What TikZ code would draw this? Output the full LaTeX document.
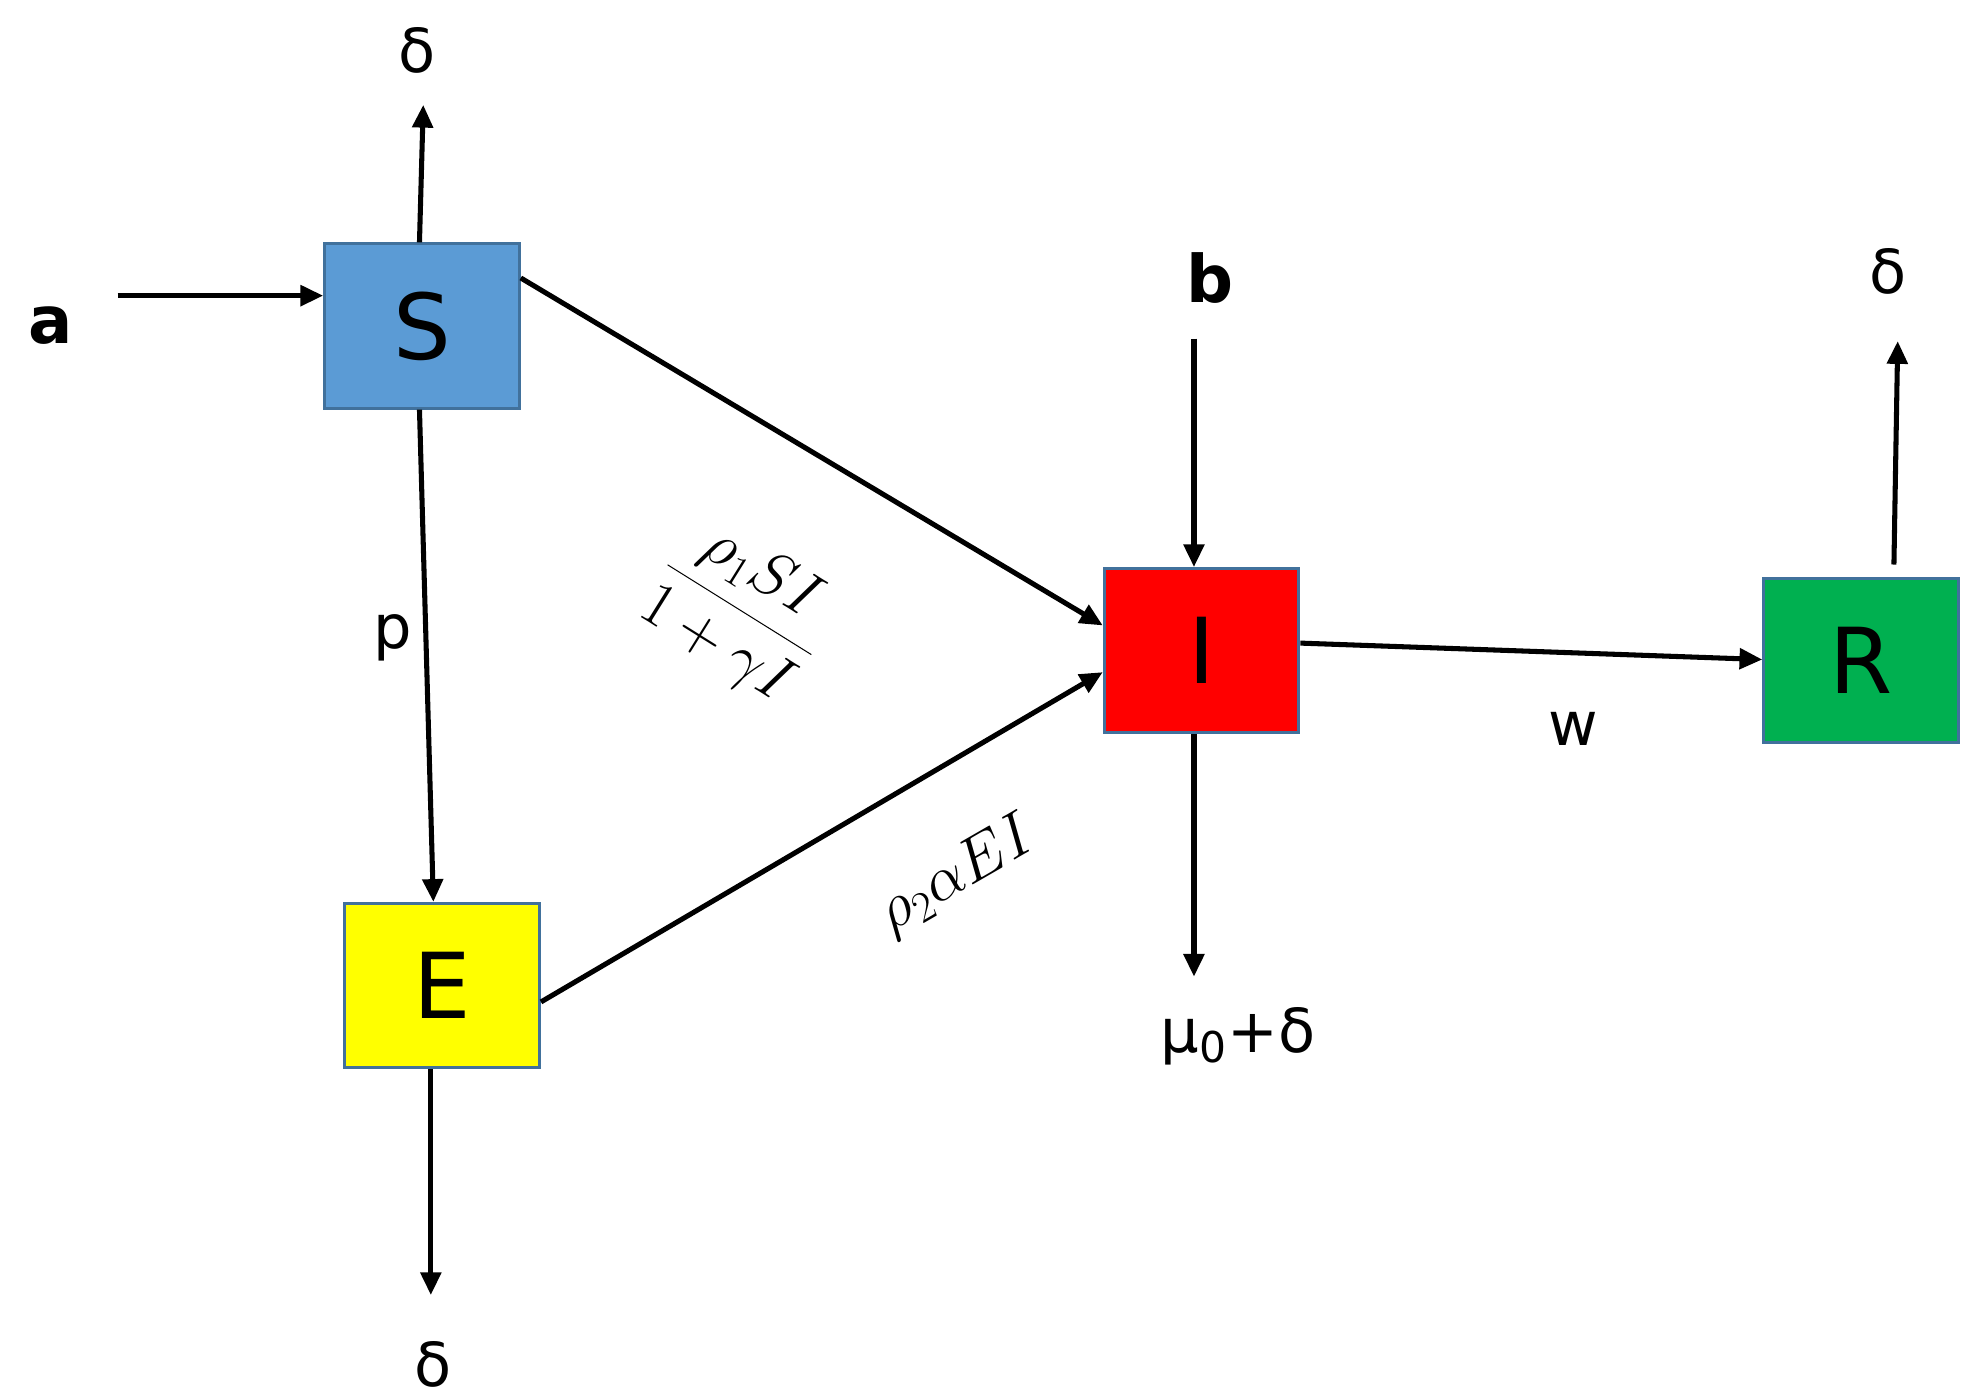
\documentclass[tikz,border=0pt]{standalone}
\usepackage{fontspec}
\setmainfont{DejaVu Sans}
\usetikzlibrary{arrows.meta}
\definecolor{bord}{RGB}{65,113,156}
\definecolor{sblue}{RGB}{91,155,213}
\definecolor{rgreen}{RGB}{0,176,80}
\definecolor{yel}{RGB}{255,255,0}
\begin{document}
\begin{tikzpicture}[x=0.5pt,y=-0.5pt,
  box/.style={draw=bord, line width=1.2pt, minimum width=77pt, minimum height=65pt, inner sep=0pt, font=\fontsize{36}{40}\selectfont},
  arr/.style={line width=2pt, -{Triangle[length=9pt,width=8pt]}},
  lab/.style={font=\fontsize{24}{26}\selectfont, inner sep=0pt}]
\useasboundingbox (0,0) rectangle (1560,1108);
\node[box, fill=sblue] (S) at (334,258) {S};
\node[box, fill=yel] (E) at (350,780) {E};
\node[box, fill=red] (I) at (951,515) {I};
\node[box, fill=rgreen] (R) at (1473,523) {R};
\node[lab, font=\fontsize{26}{28}\selectfont\bfseries] (a) at (40,258) {a};
\node[lab, font=\fontsize{26}{28}\selectfont\bfseries] (b) at (958,220) {b};
\node[lab] (dS) at (330,40) {δ};
\node[lab] (dE) at (343,1080) {δ};
\node[lab] (dR) at (1494,215) {δ};
\node[lab] (mu) at (980,820) {μ\textsubscript{0}+δ};
\node[lab] (p) at (311,505) {p};
\node[lab] (w) at (1245,577) {w};
\node[inner sep=0pt, rotate=-32] (f1) at (585,483) {\fontsize{27}{30}\selectfont$\displaystyle\frac{\rho_1 SI}{1+\gamma I}$};
\node[inner sep=0pt, rotate=30] (f2) at (758,693) {\fontsize{27}{30}\selectfont$\rho_2\alpha EI$};
\coordinate (a1) at (93,234);
\coordinate (St) at (335,83);
\coordinate (Eb) at (341,1025);
\coordinate (b1) at (945,268);
\coordinate (Ib) at (945,773);
\coordinate (Rt) at (1502,270);
\draw[arr] (a1) -- (S.west |- a1);
\draw[arr] ([xshift=-1pt]S.north) -- (St);
\draw[arr] ([xshift=-1pt]S.south) -- ([xshift=-3.5pt]E.north);
\draw[arr] ([yshift=19pt]S.east) -- ([yshift=10pt]I.west);
\draw[arr] ([yshift=-6.5pt]E.east) -- ([yshift=-8.5pt]I.west);
\draw[arr] ([xshift=-4.5pt]E.south) -- (Eb);
\draw[arr] (b1) -- (b1 |- I.north);
\draw[arr] ([xshift=-3pt]I.south) -- (Ib);
\draw[arr] ([yshift=3pt]I.east) -- ([yshift=0.5pt]R.west);
\draw[arr] ([xshift=13pt,yshift=5pt]R.north) -- (Rt);
\end{tikzpicture}
\end{document}
